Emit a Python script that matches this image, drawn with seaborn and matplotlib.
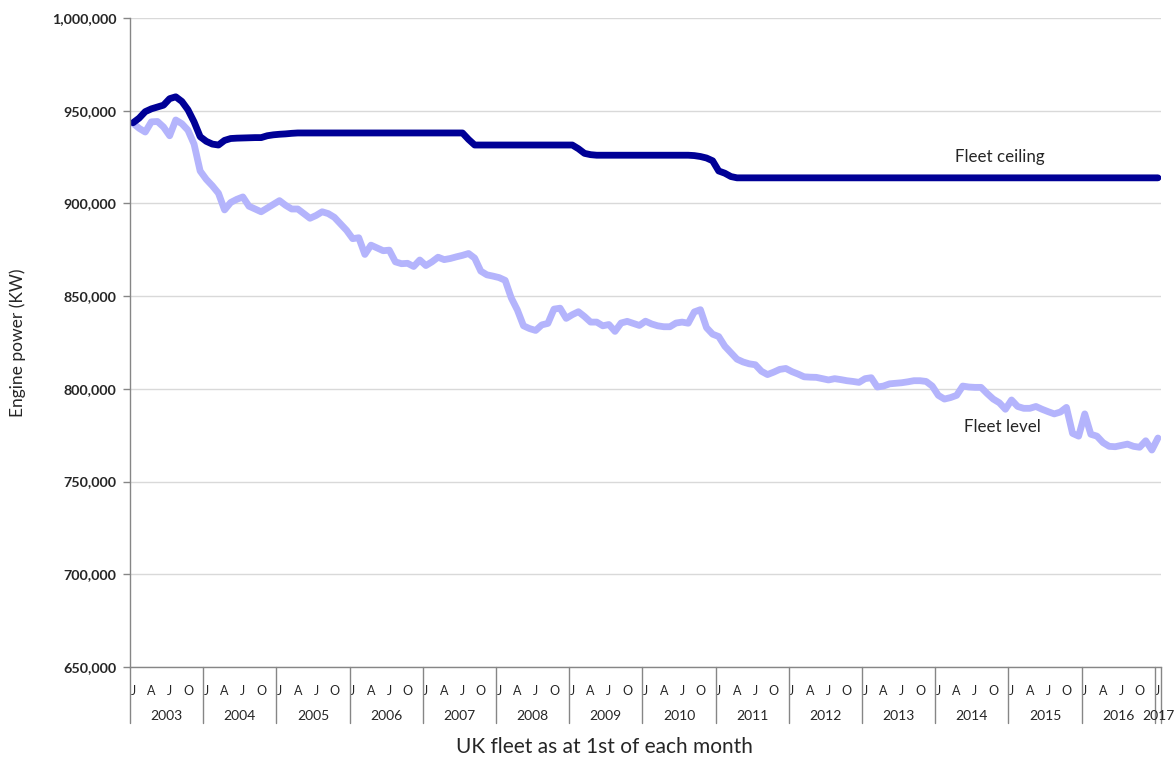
import numpy as np
import pandas as pd
import matplotlib
matplotlib.use("Agg")
import matplotlib.pyplot as plt
import matplotlib.transforms as mtransforms
import seaborn as sns

# categories: monthly, Jan 2003 .. Jan 2017
years = list(range(2003, 2018))
quarter_letters = ["J", "A", "J", "O"]

# fleet ceiling (kW), one value per month
fleet_ceiling = [
    943500, 946000, 949500, 951000, 952000, 953000, 956500, 957500, 955000, 950500, 944000, 936000,  # 2003
    933500, 932000, 931500, 934000, 935000, 935200, 935300, 935400, 935500, 935500, 936500, 937000,  # 2004
    937300, 937500, 937800, 938000, 938000, 938000, 938000, 938000, 938000, 938000, 938000, 938000,  # 2005
    938000, 938000, 938000, 938000, 938000, 938000, 938000, 938000, 938000, 938000, 938000, 938000,  # 2006
    938000, 938000, 938000, 938000, 938000, 938000, 938000, 934500, 931500, 931500, 931500, 931500,  # 2007
    931500, 931500, 931500, 931500, 931500, 931500, 931500, 931500, 931500, 931500, 931500, 931500,  # 2008
    931500, 929500, 927000, 926300, 926000, 926000, 926000, 926000, 926000, 926000, 926000, 926000,  # 2009
    926000, 926000, 926000, 926000, 926000, 926000, 926000, 926000, 925800, 925300, 924500, 923000,  # 2010
    917500, 916300, 914500, 913800, 913800, 913800, 913800, 913800, 913800, 913800, 913800, 913800,  # 2011
    913800, 913800, 913800, 913800, 913800, 913800, 913800, 913800, 913800, 913800, 913800, 913800,  # 2012
    913800, 913800, 913800, 913800, 913800, 913800, 913800, 913800, 913800, 913800, 913800, 913800,  # 2013
    913800, 913800, 913800, 913800, 913800, 913800, 913800, 913800, 913800, 913800, 913800, 913800,  # 2014
    913800, 913800, 913800, 913800, 913800, 913800, 913800, 913800, 913800, 913800, 913800, 913800,  # 2015
    913800, 913800, 913800, 913800, 913800, 913800, 913800, 913800, 913800, 913800, 913800, 913800,  # 2016
    913800,                                                                                          # 2017
]

# fleet level (kW), one value per month
fleet_level = [
    943200, 940500, 938500, 944000, 944200, 941200, 936500, 945000, 943000, 939500, 932000, 917500,  # 2003
    913000, 909500, 905500, 896500, 900500, 902200, 903500, 898500, 897000, 895500, 897500, 899500,  # 2004
    901500, 899000, 897000, 897000, 894500, 892000, 893500, 895500, 894500, 892500, 889000, 885500,  # 2005
    881000, 881500, 872500, 877500, 876000, 874500, 874800, 868500, 867500, 867700, 866000, 869500,  # 2006
    866500, 868500, 871000, 869700, 870300, 871200, 872000, 873000, 870500, 863500, 861500, 860800,  # 2007
    860000, 858500, 849000, 842500, 834000, 832500, 831500, 834500, 835300, 843000, 843500, 838000,  # 2008
    840000, 841600, 839000, 836000, 836000, 834000, 834700, 831000, 835500, 836400, 835300, 834200,  # 2009
    836500, 835000, 834000, 833500, 833500, 835500, 836000, 835400, 841500, 842700, 833000, 829500,  # 2010
    828200, 823000, 819500, 816000, 814500, 813500, 813000, 809500, 807700, 809000, 810500, 811000,  # 2011
    809300, 808000, 806500, 806300, 806200, 805500, 804800, 805500, 805000, 804400, 804000, 803500,  # 2012
    805500, 806000, 801000, 801500, 802700, 803000, 803300, 803800, 804400, 804400, 804000, 801500,  # 2013
    796500, 794500, 795300, 796500, 801500, 801000, 800800, 800800, 797500, 794500, 792500, 789000,  # 2014
    794000, 790500, 789500, 789500, 790500, 789000, 787700, 786500, 787500, 790000, 776000, 774500,  # 2015
    786500, 775500, 774500, 771000, 769000, 768800, 769500, 770200, 769000, 768500, 772000, 767000,  # 2016
    773500,                                                                                          # 2017
]

n = len(fleet_level)
df = pd.DataFrame({
    "month": np.arange(n),
    "Fleet level": fleet_level,
    "Fleet ceiling": fleet_ceiling,
})

sns.set_theme(style="white")
plt.rcParams["font.family"] = ["Lato", "DejaVu Sans"]

fig = plt.figure(figsize=(11.74, 7.62), dpi=100)
ax = fig.add_axes([130 / 1174, 1 - 667 / 762, 1031 / 1174, 649 / 762])

# light series first, dark ceiling drawn over it
sns.lineplot(data=df, x="month", y="Fleet level", ax=ax, color="#b4b4fc",
             linewidth=4.9, solid_capstyle="round", solid_joinstyle="round")
sns.lineplot(data=df, x="month", y="Fleet ceiling", ax=ax, color="#000096",
             linewidth=4.9, solid_capstyle="round", solid_joinstyle="round")

ax.set_xlim(-0.5, n - 0.5)
ax.set_ylim(650000, 1000000)

# y axis
yt = np.arange(650000, 1000001, 50000)
ax.set_yticks(yt)
ax.set_yticklabels([f"{v:,}" for v in yt], fontweight="bold", fontsize=10.3)
ax.tick_params(axis="y", length=5, width=1, color="#868686", pad=5, left=True)
ax.grid(axis="y", color="#d9d9d9", linewidth=1)
ax.set_axisbelow(True)
ax.set_ylabel("Engine power (KW)", fontsize=12.5)
ax.yaxis.set_label_coords(-0.101, 0.5)

for side in ["top", "right"]:
    ax.spines[side].set_visible(False)
for side in ["left", "bottom"]:
    ax.spines[side].set_color("#868686")
    ax.spines[side].set_linewidth(1)

# x axis: month letters, then years
month_pos = [i for i in range(n) if i % 12 in (0, 3, 6, 9)]
ax.set_xticks(month_pos)
ax.set_xticklabels([quarter_letters[(i % 12) // 3] for i in month_pos], fontsize=9)
ax.tick_params(axis="x", length=0, pad=13)
ax.set_xlabel("")

trans = mtransforms.blended_transform_factory(ax.transData, ax.transAxes)
for k, yr in enumerate(years):
    start = 12 * k - 0.5
    end = min(start + 12, n - 0.5)
    ax.text((start + end) / 2, -0.0755, str(yr), transform=trans,
            ha="center", va="center", fontsize=10)
    ax.plot([start, start], [0, -0.087], transform=trans, color="#868686",
            linewidth=1, clip_on=False)
ax.plot([n - 0.5, n - 0.5], [0, -0.087], transform=trans, color="#868686",
        linewidth=1, clip_on=False)

fig.text(604 / 1174, 1 - 747 / 762, "UK fleet as at 1st of each month",
         ha="center", va="center", fontsize=15)

# series labels
ax.text(142, 925200, "Fleet ceiling", ha="center", va="center", fontsize=12.2)
ax.text(142.5, 779400, "Fleet level", ha="center", va="center", fontsize=12.2)

fig.savefig("out.png", dpi=100)
